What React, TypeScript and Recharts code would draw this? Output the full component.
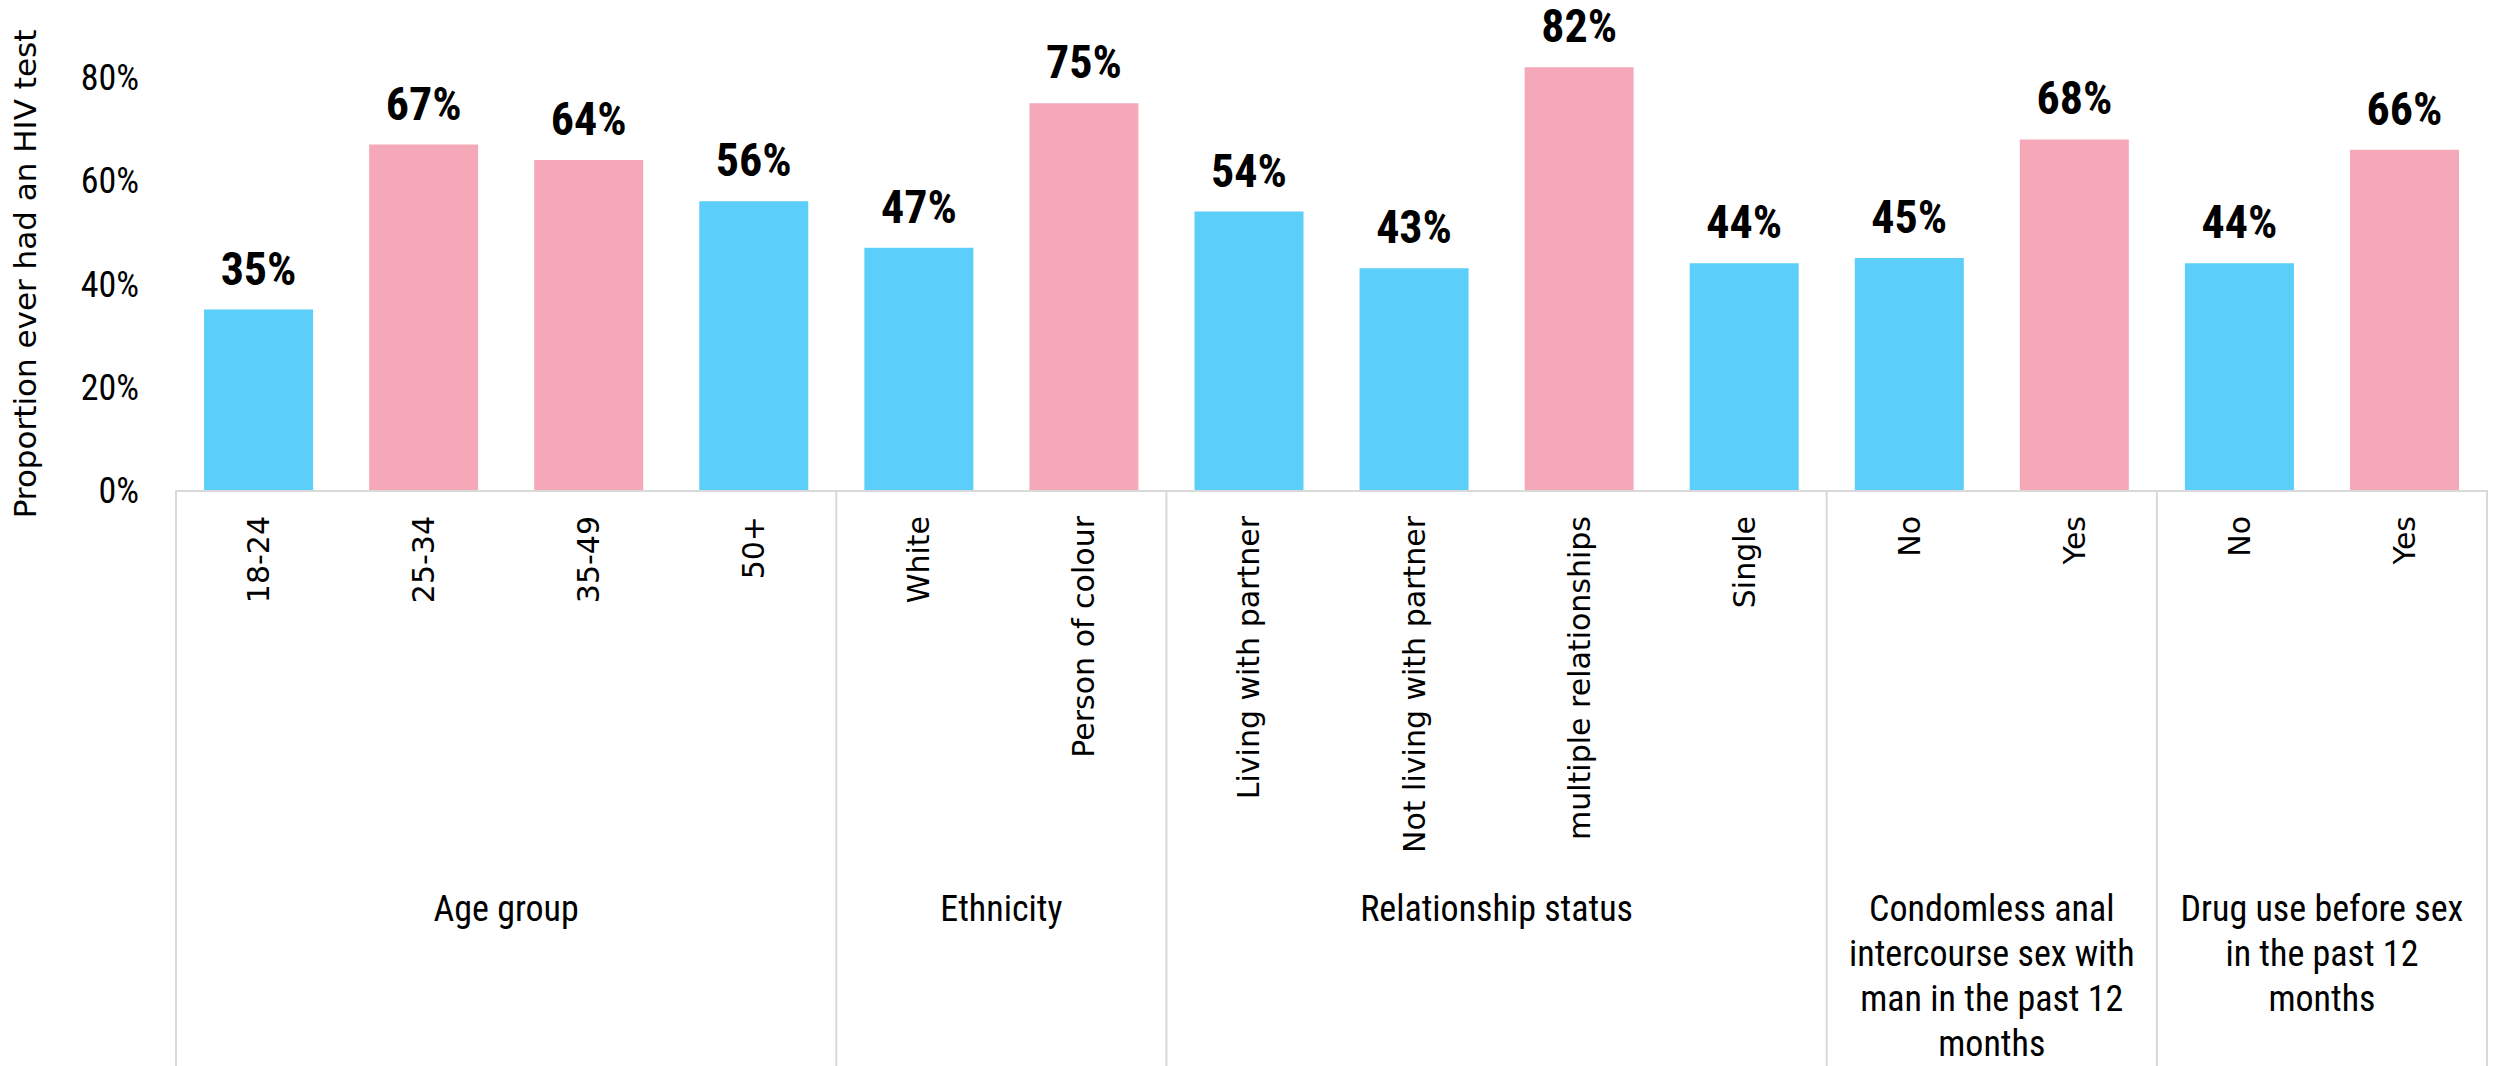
import React from 'react';
import { BarChart, Bar, XAxis, YAxis, Cell, LabelList } from 'recharts';

const CATEGORIES = [
  '18-24',
  '25-34',
  '35-49',
  '50+',
  'White',
  'Person of colour',
  'Living with partner',
  'Not living with partner',
  'multiple relationships',
  'Single',
  'No',
  'Yes',
  'No',
  'Yes',
];
const VALUES = [35, 67, 64, 56, 47, 75, 54, 43, 82, 44, 45, 68, 44, 66];
const HIGHLIGHT = [false, true, true, false, false, true, false, false, true, false, false, true, false, true];

const GROUP_NAMES = [
  ['Age group'],
  ['Ethnicity'],
  ['Relationship status'],
  ['Condomless anal', 'intercourse sex with', 'man in the past 12', 'months'],
  ['Drug use before sex', 'in the past 12', 'months'],
];
const GROUP_SIZES = [4, 2, 4, 2, 2];
const Y_TICKS = [0, 20, 40, 60, 80];

const W = 2509;
const H = 1066;
const BLUE = '#5BCEFA';
const PINK = '#F5A9B8';
const LINE = '#d9d9d9';
const NARROW = "'Liberation Sans Narrow', 'Roboto Condensed', 'Liberation Sans', sans-serif";
const WIDE = "'DejaVu Sans', Verdana, sans-serif";

const data = CATEGORIES.map((label, i) => ({ key: `c${i}`, label, value: VALUES[i], pos: i + 0.5 }));

// group boundaries and centres in category units (for the numeric group axis)
const BOUNDS = GROUP_SIZES.reduce<number[]>((acc, n) => [...acc, acc[acc.length - 1] + n], [0]);
const CENTERS = GROUP_SIZES.map((n, i) => BOUNDS[i] + n / 2);

function CategoryTick(props: any) {
  const { x, y, index } = props;
  return (
    <text
      x={x}
      y={y + 25}
      dy="0.35em"
      transform={`rotate(-90, ${x}, ${y + 25})`}
      textAnchor="end"
      fontFamily={WIDE}
      fontSize={30}
      fill="#000"
    >
      {CATEGORIES[index]}
    </text>
  );
}

function GroupTick(props: any) {
  const { x, y, payload } = props;
  const v = payload.value;
  if (BOUNDS.includes(v)) {
    return <line x1={x} x2={x} y1={y} y2={H} stroke={LINE} strokeWidth={2} />;
  }
  const g = CENTERS.indexOf(v);
  if (g < 0) return null;
  return (
    <text x={x} y={y + 418} textAnchor="middle" fontFamily={NARROW} fontSize={36} fill="#000">
      {GROUP_NAMES[g].map((line, k) => (
        <tspan key={k} x={x} dy={k === 0 ? '0.35em' : 45}>
          {line}
        </tspan>
      ))}
    </text>
  );
}

function YTitle(props: any) {
  const { viewBox } = props;
  const cx = viewBox.x + 25;
  const cy = viewBox.y + viewBox.height / 2 + 16;
  return (
    <text
      x={cx}
      y={cy}
      dy="0.35em"
      transform={`rotate(-90, ${cx}, ${cy})`}
      textAnchor="middle"
      fontFamily={WIDE}
      fontSize={31}
      fill="#000"
    >
      Proportion ever had an HIV test
    </text>
  );
}

export default function App() {
  return (
    <div style={{ position: 'absolute', left: 0, top: 0, width: W, height: H, background: '#fff' }}>
      <BarChart
        width={W}
        height={H}
        data={data}
        margin={{ top: 26, right: 22, left: 0, bottom: 0 }}
        barCategoryGap="17%"
      >
        <XAxis
          xAxisId="a"
          dataKey="pos"
          type="number"
          domain={[0, CATEGORIES.length]}
          allowDataOverflow
          ticks={[...BOUNDS, ...CENTERS]}
          interval={0}
          height={1}
          axisLine={false}
          tickLine={false}
          tickSize={0}
          tickMargin={0}
          tick={<GroupTick />}
        />
        <XAxis
          xAxisId="b"
          dataKey="key"
          interval={0}
          height={575}
          axisLine={{ stroke: LINE, strokeWidth: 2 }}
          tickLine={false}
          tickSize={0}
          tickMargin={0}
          tick={<CategoryTick />}
        />
        <YAxis
          domain={[0, 90]}
          ticks={Y_TICKS}
          width={176}
          axisLine={false}
          tickLine={false}
          tickSize={0}
          tickMargin={37}
          tickFormatter={(v) => `${v}%`}
          tick={{ fontFamily: NARROW, fontSize: 36, fill: '#000' }}
          label={<YTitle />}
        />
        <Bar dataKey="value" xAxisId="b" isAnimationActive={false}>
          {data.map((d, i) => (
            <Cell key={d.key} fill={HIGHLIGHT[i] ? PINK : BLUE} />
          ))}
          <LabelList
            dataKey="value"
            position="top"
            offset={25}
            formatter={(v: any) => `${v}%`}
            fill="#000"
            fontFamily={NARROW}
            fontSize={46}
            fontWeight="bold"
          />
        </Bar>
      </BarChart>
    </div>
  );
}
